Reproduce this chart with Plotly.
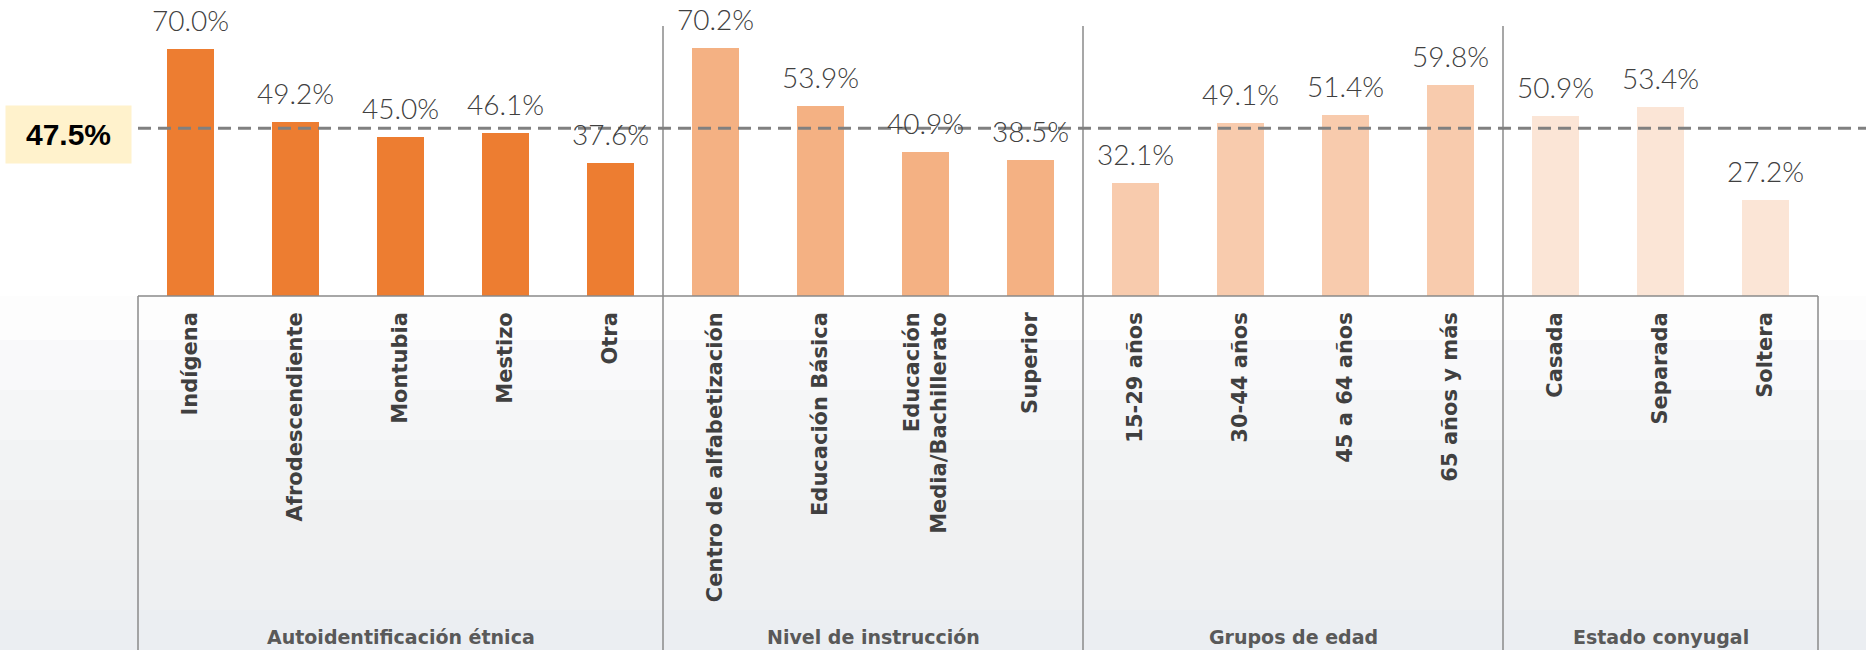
import plotly.graph_objects as go

# Categories and values (%) per group
etnia_cats = ["Indígena", "Afrodescendiente", "Montubia", "Mestizo", "Otra"]
etnia_vals = [70.0, 49.2, 45.0, 46.1, 37.6]

instruccion_cats = ["Centro de alfabetización", "Educación Básica",
                    "Educación<br>Media/Bachillerato", "Superior"]
instruccion_vals = [70.2, 53.9, 40.9, 38.5]

edad_cats = ["15-29 años", "30-44 años", "45 a 64 años", "65 años y más"]
edad_vals = [32.1, 49.1, 51.4, 59.8]

conyugal_cats = ["Casada", "Separada", "Soltera"]
conyugal_vals = [50.9, 53.4, 27.2]

group_names = ["Autoidentificación étnica", "Nivel de instrucción",
               "Grupos de edad", "Estado conyugal"]
promedio = 47.5

groups = [
    (etnia_cats, etnia_vals, "#ED7D31"),
    (instruccion_cats, instruccion_vals, "#F4B183"),
    (edad_cats, edad_vals, "#F8CBAD"),
    (conyugal_cats, conyugal_vals, "#FBE5D6"),
]

all_cats = [c for g in groups for c in g[0]]

W, H = 1866, 650
ML, MR, MT, MB = 138, 48, 0, 354
plot_h = H - MT - MB
Y_TOP = 83.85

fig = go.Figure()
for cats, vals, color in groups:
    fig.add_trace(go.Bar(
        x=cats, y=vals, width=0.45,
        marker=dict(color=color, line=dict(width=0)),
        showlegend=False, hoverinfo="x+y",
    ))

annotations = []
# value labels above each bar
for cats, vals, _ in groups:
    for c, v in zip(cats, vals):
        annotations.append(dict(
            x=c, y=v, xref="x", yref="y", text=f"{v:.1f}%",
            showarrow=False, yanchor="bottom", yshift=10,
            font=dict(family="Lato", size=28, color="#404040", weight=300),
        ))

# group titles under each block
start = 0
for name, (cats, _, _) in zip(group_names, groups):
    center = start + (len(cats) - 1) / 2
    annotations.append(dict(
        x=center, y=-(637 - plot_h) / plot_h, xref="x", yref="paper",
        text=f"<b>{name}</b>", showarrow=False, yanchor="middle",
        font=dict(family="DejaVu Sans", size=19, color="#595959"),
    ))
    start += len(cats)

# overall average label
annotations.append(dict(
    x=-70 / (W - ML - MR), y=promedio, xref="paper", yref="y",
    text="<b>47.5%</b>", showarrow=False, xanchor="center", yanchor="middle",
    yshift=-6, width=123, height=55, bgcolor="#FFF2CC",
    font=dict(family="Liberation Sans Narrow, Liberation Sans", size=30, color="#000000"),
))

shapes = []
# soft background shading in the lower part of the canvas
bands = [
    (296, 340, "#fdfdfd"), (340, 390, "#f9f9fa"), (390, 440, "#f5f6f7"),
    (440, 500, "#f2f3f4"), (500, 560, "#f0f1f2"), (560, 610, "#eef0f2"),
    (610, 650, "#ebeef2"),
]
for y0, y1, col in bands:
    shapes.append(dict(
        type="rect", xref="paper", yref="paper",
        x0=-ML / (W - ML - MR), x1=1 + MR / (W - ML - MR),
        y0=(plot_h - y1) / plot_h, y1=(plot_h - y0) / plot_h,
        fillcolor=col, line=dict(width=0), layer="below",
    ))

line_col = "#8a8a8a"
bottom = -MB / plot_h
# box around the category labels
shapes.append(dict(type="line", xref="paper", yref="paper", x0=0, x1=1, y0=0, y1=0,
                   line=dict(color=line_col, width=1.5)))
for xp in (0, 1):
    shapes.append(dict(type="line", xref="paper", yref="paper", x0=xp, x1=xp,
                       y0=bottom, y1=0, line=dict(color=line_col, width=1.5)))
# vertical separators between groups
pos = -0.5
for cats, _, _ in groups[:-1]:
    pos += len(cats)
    shapes.append(dict(type="line", xref="x", yref="paper", x0=pos, x1=pos,
                       y0=bottom, y1=(plot_h - 26) / plot_h,
                       line=dict(color=line_col, width=1.5)))
# average reference line
shapes.append(dict(type="line", xref="paper", yref="y", x0=0,
                   x1=1 + MR / (W - ML - MR), y0=promedio, y1=promedio,
                   line=dict(color="#808080", width=3, dash="13px,7px"), layer="above"))

fig.update_layout(
    width=W, height=H,
    margin=dict(l=ML, r=MR, t=MT, b=MB, pad=0),
    paper_bgcolor="#ffffff", plot_bgcolor="rgba(0,0,0,0)",
    barmode="overlay", bargap=0,
    annotations=annotations, shapes=shapes,
    xaxis=dict(
        type="category", categoryorder="array", categoryarray=all_cats,
        range=[-0.5, len(all_cats) - 0.5],
        tickangle=-90, ticks="", ticklabelstandoff=11,
        tickfont=dict(family="DejaVu Sans", size=21, color="#404040", weight="bold"),
        showgrid=False, zeroline=False, showline=False,
    ),
    yaxis=dict(range=[0, Y_TOP], visible=False, showgrid=False, zeroline=False),
)

fig.write_html("out.html")
